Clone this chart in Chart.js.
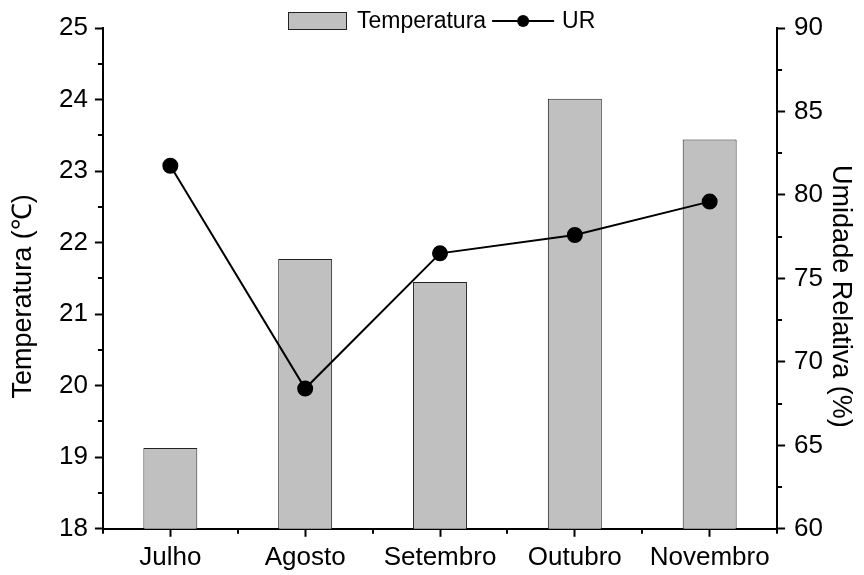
<!DOCTYPE html>
<html>
<head>
<meta charset="utf-8">
<title>Temperatura e UR</title>
<script src="https://cdn.jsdelivr.net/npm/chart.js@4.4.1/dist/chart.umd.min.js"></script>
<style>
  body { margin: 0; background: #fff; }
  canvas { display: block; }
</style>
</head>
<body>
<canvas id="grafico" width="864" height="575"></canvas>
<script>
const meses = ['Julho', 'Agosto', 'Setembro', 'Outubro', 'Novembro'];
const temperatura = [19.13, 21.77, 21.45, 24.01, 23.44];
const umidade = [81.75, 68.4, 76.5, 77.6, 79.6];
const limitesTemp = [18, 25];
const limitesUR = [60, 90];
const tituloTemp = 'Temperatura (℃)';
const tituloUR = 'Umidade Relativa (%)';

const fonte = 'Liberation Sans, Arial, Helvetica, sans-serif';

// ticks menores (entre os valores e entre os meses)
const ticksMenores = {
    id: 'ticksMenores',
    afterDraw(chart) {
        const ctx = chart.ctx;
        const area = chart.chartArea;
        const { x, y, y1 } = chart.scales;
        ctx.save();
        ctx.strokeStyle = '#000';
        ctx.lineWidth = 2;
        ctx.beginPath();
        for (let v = limitesTemp[0] + 0.5; v < limitesTemp[1]; v += 1) {
            const py = Math.round(y.getPixelForValue(v));
            ctx.moveTo(area.left - 5, py);
            ctx.lineTo(area.left, py);
        }
        for (let v = limitesUR[0] + 2.5; v < limitesUR[1]; v += 5) {
            const py = Math.round(y1.getPixelForValue(v));
            ctx.moveTo(area.right, py);
            ctx.lineTo(area.right + 5, py);
        }
        for (let i = 0; i <= meses.length; i++) {
            const px = Math.round(x.getPixelForValue(i - 0.5));
            ctx.moveTo(px, area.bottom);
            ctx.lineTo(px, area.bottom + 5);
        }
        ctx.stroke();
        ctx.restore();
    }
};

// titulos dos eixos (um pouco abaixo do centro, como no original)
const titulos = {
    id: 'titulos',
    afterDraw(chart) {
        const ctx = chart.ctx;
        const area = chart.chartArea;
        const cy = (area.top + area.bottom) / 2 + 18;
        ctx.save();
        ctx.font = '27px ' + fonte;
        ctx.fillStyle = '#000';
        ctx.textAlign = 'center';
        ctx.textBaseline = 'middle';
        ctx.translate(24, cy);
        ctx.rotate(-Math.PI / 2);
        ctx.fillText(tituloTemp, 0, 0);
        ctx.restore();
        ctx.save();
        ctx.font = '27px ' + fonte;
        ctx.fillStyle = '#000';
        ctx.textAlign = 'center';
        ctx.textBaseline = 'middle';
        ctx.translate(840, cy);
        ctx.rotate(Math.PI / 2);
        ctx.fillText(tituloUR, 0, 0);
        ctx.restore();
    }
};

// legenda desenhada a mao: caixa cinza + linha com ponto
const legenda = {
    id: 'legenda',
    afterDraw(chart) {
        const ctx = chart.ctx;
        const area = chart.chartArea;
        const barra = chart.data.datasets[1];
        const linha = chart.data.datasets[0];
        ctx.save();
        ctx.font = '23px ' + fonte;
        ctx.textBaseline = 'middle';
        ctx.fillStyle = '#000';
        const w1 = ctx.measureText(barra.label).width;
        const w2 = ctx.measureText(linha.label).width;
        const total = 59 + 10 + w1 + 6 + 62 + 8 + w2;
        let px = Math.round((area.left + area.right) / 2 - total / 2) + 2;
        const cy = 21;

        ctx.fillStyle = barra.backgroundColor;
        ctx.fillRect(px, cy - 9, 59, 18);
        ctx.strokeStyle = barra.borderColor;
        ctx.lineWidth = 1;
        ctx.strokeRect(px + 0.5, cy - 8.5, 58, 17);
        px += 59 + 10;
        ctx.fillStyle = '#000';
        ctx.fillText(barra.label, px, cy + 1);
        px += w1 + 6;

        ctx.strokeStyle = linha.borderColor;
        ctx.lineWidth = 2;
        ctx.beginPath();
        ctx.moveTo(px, cy);
        ctx.lineTo(px + 62, cy);
        ctx.stroke();
        ctx.fillStyle = linha.pointBackgroundColor;
        ctx.beginPath();
        ctx.arc(px + 31, cy, 6, 0, Math.PI * 2);
        ctx.fill();
        px += 62 + 8;
        ctx.fillStyle = '#000';
        ctx.fillText(linha.label, px, cy + 1);
        ctx.restore();
    }
};

const ctx = document.getElementById('grafico').getContext('2d');

new Chart(ctx, {
    data: {
        labels: meses,
        datasets: [
            {
                type: 'line',
                label: 'UR',
                data: umidade,
                yAxisID: 'y1',
                borderColor: '#000',
                borderWidth: 2,
                pointRadius: 7,
                pointBackgroundColor: '#000',
                pointBorderColor: '#000',
                tension: 0,
                order: 0
            },
            {
                type: 'bar',
                label: 'Temperatura',
                data: temperatura,
                yAxisID: 'y',
                backgroundColor: '#c0c0c0',
                borderColor: '#222222',
                borderWidth: 1,
                borderSkipped: false,
                barPercentage: 0.4,
                categoryPercentage: 1.0,
                order: 1
            }
        ]
    },
    options: {
        responsive: false,
        animation: false,
        devicePixelRatio: 1,
        layout: { padding: { top: 28, left: 52, right: 32, bottom: -3 } },
        plugins: {
            legend: { display: false },
            tooltip: { enabled: false }
        },
        scales: {
            x: {
                offset: true,
                grid: {
                    offset: false,
                    drawOnChartArea: false,
                    drawTicks: true,
                    tickLength: 8,
                    tickWidth: 2,
                    tickColor: '#000'
                },
                border: { display: true, color: '#000', width: 2 },
                ticks: {
                    color: '#000',
                    padding: 5,
                    maxRotation: 0,
                    font: { family: fonte, size: 26 }
                }
            },
            y: {
                position: 'left',
                min: limitesTemp[0],
                max: limitesTemp[1],
                grid: {
                    drawOnChartArea: false,
                    tickLength: 8,
                    tickWidth: 2,
                    tickColor: '#000'
                },
                border: { display: true, color: '#000', width: 2 },
                ticks: {
                    stepSize: 1,
                    color: '#000',
                    padding: 7,
                    font: { family: fonte, size: 26 }
                }
            },
            y1: {
                position: 'right',
                min: limitesUR[0],
                max: limitesUR[1],
                grid: {
                    drawOnChartArea: false,
                    tickLength: 8,
                    tickWidth: 2,
                    tickColor: '#000'
                },
                border: { display: true, color: '#000', width: 2 },
                ticks: {
                    stepSize: 5,
                    color: '#000',
                    padding: 9,
                    font: { family: fonte, size: 26 }
                }
            }
        }
    },
    plugins: [ticksMenores, titulos, legenda]
});
</script>
</body>
</html>
